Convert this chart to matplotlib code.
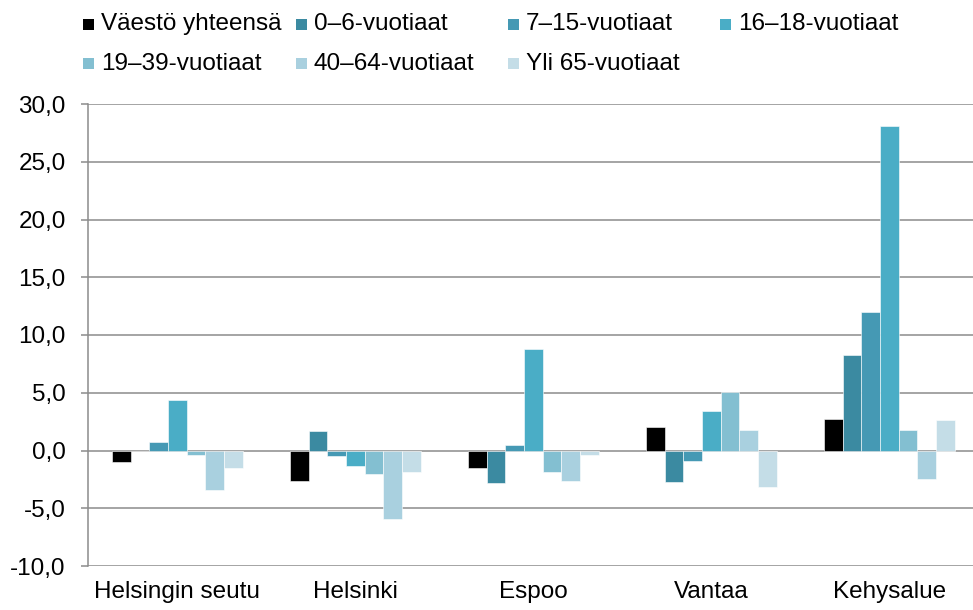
import matplotlib
matplotlib.use("Agg")
import matplotlib.pyplot as plt
from matplotlib.patches import Rectangle
import numpy as np

plt.rcParams['font.family'] = ['Liberation Sans', 'DejaVu Sans']

categories = ["Helsingin seutu", "Helsinki", "Espoo", "Vantaa", "Kehysalue"]
series_names = ["Väestö yhteensä", "0–6-vuotiaat", "7–15-vuotiaat", "16–18-vuotiaat",
                "19–39-vuotiaat", "40–64-vuotiaat", "Yli 65-vuotiaat"]
vaesto_yhteensa = [-1.0, -2.6, -1.55, 2.05, 2.7]
v0_6 = [0.0, 1.65, -2.8, -2.7, 8.3]
v7_15 = [0.75, -0.45, 0.45, -0.95, 12.0]
v16_18 = [4.4, -1.35, 8.8, 3.4, 28.1]
v19_39 = [-0.35, -2.05, -1.9, 5.1, 1.8]
v40_64 = [-3.45, -5.9, -2.65, 1.8, -2.45]
yli65 = [-1.55, -1.9, -0.4, -3.2, 2.65]
series = [vaesto_yhteensa, v0_6, v7_15, v16_18, v19_39, v40_64, yli65]
colors = ["#000000", "#3b8aa1", "#4599b4", "#4aadc6", "#83bfd1", "#a9d0df", "#c4dde7"]
yticks = [-10, -5, 0, 5, 10, 15, 20, 25, 30]

W, H = 973, 610
fig = plt.figure(figsize=(W / 100, H / 100), dpi=100)
ax = fig.add_axes([88 / W, (H - 566) / H, (973 - 88) / W, (566 - 104) / H])

x = np.arange(len(categories))
bw = 0.105
for j, (vals, c) in enumerate(zip(series, colors)):
    ax.bar(x + (j - 3) * bw, vals, width=bw, color=c, edgecolor="white",
           linewidth=0.4, zorder=3, label=series_names[j])

ax.set_xlim(-0.502, 4.47)
ax.set_ylim(-10, 30)
ax.set_yticks(yticks)
ax.set_yticklabels([f"{v:.1f}".replace(".", ",") for v in yticks], fontsize=17.5)
ax.set_xticks(x)
ax.set_xticklabels(categories, fontsize=17.5)
ax.tick_params(axis="x", length=0, pad=11)
ax.tick_params(axis="y", length=5, width=1.1, color="#8c8c8c", pad=11)
ax.grid(axis="y", color="#8c8c8c", linewidth=1.1, zorder=1)
for s in ["top", "right", "bottom"]:
    ax.spines[s].set_visible(False)
ax.spines["left"].set_color("#8c8c8c")
ax.spines["left"].set_linewidth(1.1)

# legend placed manually (Excel-style)
col_x = [83, 296, 508, 720]
row_c = [24, 63]
row_base = [30, 70]
msz = 11
for k, (name, c) in enumerate(zip(series_names, colors)):
    r, col = divmod(k, 4)
    mx = col_x[col]
    my = row_c[r]
    fig.add_artist(Rectangle((mx / W, 1 - (my + msz / 2) / H), msz / W, msz / H,
                             transform=fig.transFigure, facecolor=c, edgecolor="none"))
    fig.text((mx + 18) / W, 1 - row_base[r] / H, name, fontsize=17.5,
             va="baseline", ha="left")

fig.savefig("out.png", dpi=100)
